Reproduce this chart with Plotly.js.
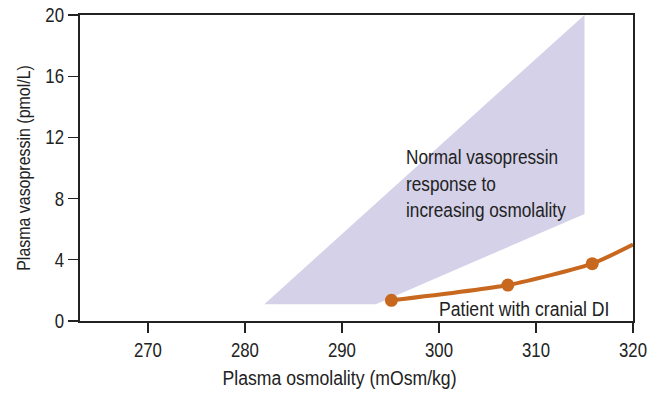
<!DOCTYPE html>
<html>
<head>
<meta charset="utf-8">
<script src="https://cdn.plot.ly/plotly-3.0.1.min.js"></script>
<style>html,body{margin:0;padding:0;background:#fff;}#chart{width:656px;height:393px;}</style>
</head>
<body>
<div id="chart"></div>
<script>
// Normal response band (polygon vertices)
const bandOsm = [282, 315, 315, 293.5, 282];
const bandVp  = [1.1, 20, 7, 1.1, 1.1];
// Patient with cranial DI
const patientOsm = [295.1, 307.1, 315.8, 320];
const patientVp  = [1.35, 2.35, 3.75, 5.0];
const markerOsm = [295.1, 307.1, 315.8];
const markerVp  = [1.35, 2.35, 3.75];
const xTicks = [270, 280, 290, 300, 310, 320];
const yTicks = [0, 4, 8, 12, 16, 20];

const font = "Liberation Sans, Arial, sans-serif";
const NARROW = 0.84; // horizontal condensing of all text (reference uses a narrow sans)
const traces = [
  {x: bandOsm, y: bandVp, type: 'scatter', mode: 'lines', fill: 'toself',
   fillcolor: '#d4d1e8', line: {width: 0, color: '#d4d1e8'}, hoverinfo: 'skip', showlegend: false},
  {x: patientOsm, y: patientVp, type: 'scatter', mode: 'lines',
   line: {color: '#c8681e', width: 4, shape: 'spline', smoothing: 0.6}, showlegend: false},
  {x: markerOsm, y: markerVp, type: 'scatter', mode: 'markers',
   marker: {color: '#c8681e', size: 13}, showlegend: false}
];
const layout = {
  width: 656, height: 393,
  margin: {l: 80, r: 23, t: 15, b: 72},
  paper_bgcolor: '#fff', plot_bgcolor: '#fff',
  font: {family: font, size: 20, color: '#222'},
  xaxis: {range: [263, 320], tickvals: xTicks, ticks: 'outside', ticklen: 10, tickwidth: 1.2,
    tickcolor: '#222', showline: true, linecolor: '#222', linewidth: 2, mirror: true,
    showgrid: false, zeroline: false,
    title: {text: 'Plasma osmolality (mOsm/kg)', font: {size: 21}, standoff: 10}},
  yaxis: {range: [0, 20], tickvals: yTicks, ticks: 'outside', ticklen: 10, tickwidth: 1.2,
    tickcolor: '#222', showline: true, linecolor: '#222', linewidth: 2, mirror: true,
    showgrid: false, zeroline: false,
    title: {text: 'Plasma vasopressin (pmol/L)', font: {size: 19}, standoff: 6}},
  annotations: [
    {x: 296.4, y: 9.0, xref: 'x', yref: 'y', xanchor: 'left', yanchor: 'middle', align: 'left',
     showarrow: false, text: 'Normal vasopressin<br>response to<br>increasing osmolality',
     font: {size: 20.5, color: '#222'}},
    {x: 299.8, y: 0.85, xref: 'x', yref: 'y', xanchor: 'left', yanchor: 'middle', align: 'left',
     showarrow: false, text: 'Patient with cranial DI', font: {size: 21, color: '#222'}}
  ]
};
Plotly.newPlot('chart', traces, layout, {displayModeBar: false, staticPlot: true}).then(function (gd) {
  gd.querySelectorAll('svg text').forEach(function (t) {
    const x = parseFloat(t.getAttribute('x')) || 0;
    const y = parseFloat(t.getAttribute('y')) || 0;
    let T = t.getAttribute('transform') || '';
    // the reference's x-axis title sits a little left of the plot centre
    if (t.classList.contains('xtitle')) T = 'translate(-17,0) ' + T;
    t.setAttribute('transform', T + ' translate(' + x + ',' + y + ') scale(' + NARROW + ',1) translate(' + (-x) + ',' + (-y) + ')');
  });
});
</script>
</body>
</html>
